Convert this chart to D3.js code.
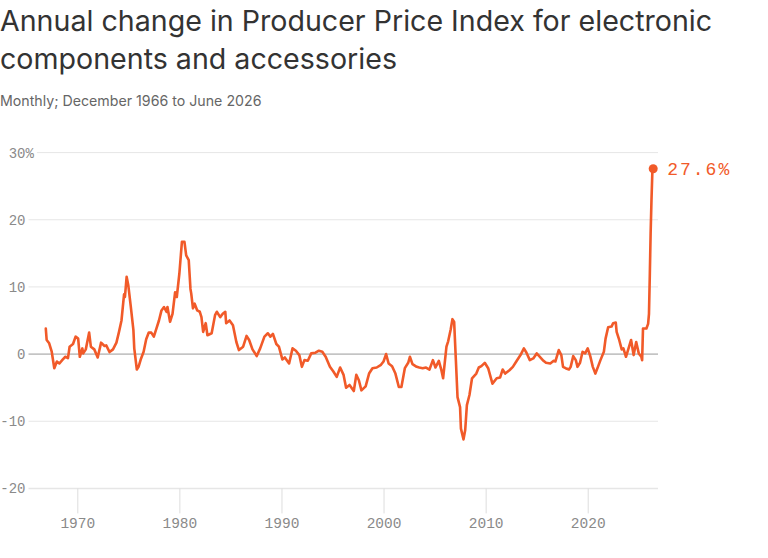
<!DOCTYPE html>
<html>
<head>
<meta charset="utf-8">
<script src="https://cdn.jsdelivr.net/npm/d3@7"></script>
<style>
  body { margin: 0; background: #fff; }
  svg { display: block; }
</style>
</head>
<body>
<div id="chart"></div>
<script>
// Size of the picture
var w = 768;
var h = 558;

// Months (YYYY-MM) and the annual % change at each
var months = [
  "1966-12","1967-01","1967-04","1967-07","1967-10","1968-01","1968-04","1968-08","1968-11","1969-02",
  "1969-04","1969-08","1969-11","1970-02","1970-04","1970-07","1970-08","1970-11","1971-03","1971-05",
  "1971-09","1972-01","1972-05","1972-09","1972-11","1973-03","1973-07","1973-11","1974-02","1974-05",
  "1974-08","1974-09","1974-11","1975-01","1975-04","1975-07","1975-08","1975-11","1976-01","1976-04",
  "1976-07","1976-10","1977-01","1977-04","1977-07","1977-10","1978-01","1978-04","1978-07","1978-10",
  "1978-11","1979-02","1979-05","1979-08","1979-10","1980-01","1980-04","1980-07","1980-09","1980-12",
  "1981-02","1981-03","1981-05","1981-07","1981-10","1982-01","1982-03","1982-05","1982-08","1982-10",
  "1983-03","1983-07","1983-09","1984-01","1984-04","1984-07","1984-08","1984-12","1985-04","1985-08",
  "1985-11","1986-04","1986-08","1986-11","1987-03","1987-08","1987-12","1988-05","1988-09","1988-12",
  "1989-03","1989-07","1989-10","1990-02","1990-05","1990-10","1991-02","1991-06","1991-10","1992-01",
  "1992-04","1992-08","1992-12","1993-05","1993-09","1994-01","1994-05","1994-10","1995-02","1995-06",
  "1995-10","1996-02","1996-05","1996-09","1997-02","1997-05","1997-08","1997-11","1998-04","1998-08",
  "1998-12","1999-05","1999-10","2000-01","2000-04","2000-07","2000-11","2001-03","2001-07","2001-10",
  "2002-02","2002-06","2002-08","2002-11","2003-04","2003-07","2003-11","2004-03","2004-07","2004-11",
  "2005-02","2005-06","2005-09","2005-11","2006-03","2006-05","2006-08","2006-10","2006-12","2007-02",
  "2007-04","2007-07","2007-08","2007-11","2008-01","2008-03","2008-06","2008-09","2009-02","2009-05",
  "2009-08","2009-12","2010-04","2010-09","2011-02","2011-06","2011-09","2011-12","2012-05","2012-09",
  "2013-01","2013-06","2013-10","2014-01","2014-05","2014-09","2015-01","2015-04","2015-09","2015-12",
  "2016-05","2016-09","2016-11","2017-03","2017-06","2017-08","2017-11","2018-03","2018-05","2018-08",
  "2018-11","2019-01","2019-04","2019-07","2019-10","2020-01","2020-04","2020-07","2020-10","2021-01",
  "2021-04","2021-08","2021-10","2022-01","2022-05","2022-07","2022-10","2022-11","2023-02","2023-05",
  "2023-07","2023-10","2024-01","2024-04","2024-07","2024-10","2025-01","2025-04","2025-05","2025-06",
  "2025-10","2025-12","2026-01","2026-02","2026-03","2026-04","2026-05","2026-06"
];

var change = [
  3.8, 2.1, 1.6, 0.35, -2.1, -1.1, -1.4, -0.8, -0.4, -0.6,
  1.1, 1.5, 2.6, 2.3, -0.4, 0.85, 0.1, 0.7, 3.2, 1.1,
  0.7, -0.5, 1.7, 1.2, 1.3, 0.3, 0.7, 1.7, 3.3, 5.0,
  8.9, 8.5, 11.5, 10.2, 7.0, 3.6, 0.85, -2.3, -1.9, -0.65,
  0.35, 2.2, 3.2, 3.2, 2.6, 3.8, 5.0, 6.5, 7.0, 6.3,
  7.0, 4.8, 6.0, 9.2, 8.5, 12.0, 16.7, 16.7, 14.7, 14.0,
  9.7, 9.0, 6.8, 7.5, 6.5, 6.3, 5.5, 3.3, 4.6, 2.8,
  3.1, 5.8, 6.3, 5.5, 6.0, 6.3, 4.6, 5.0, 4.3, 1.8,
  0.6, 1.1, 2.7, 2.1, 0.7, -0.3, 0.85, 2.6, 3.1, 2.6,
  3.0, 1.5, 1.1, -0.8, -0.5, -1.4, 0.85, 0.5, -0.15, -1.9,
  -0.9, -1.0, 0.1, 0.2, 0.5, 0.35, -0.4, -1.9, -2.6, -3.4,
  -2.0, -3.1, -5.0, -4.6, -5.5, -3.1, -3.9, -5.4, -4.8, -2.9,
  -2.1, -2.0, -1.6, -1.1, 0.0, -1.4, -1.8, -2.9, -4.9, -4.9,
  -2.1, -1.3, -0.4, -1.5, -1.9, -2.0, -2.1, -2.0, -2.3, -0.9,
  -2.0, -1.0, -2.4, -3.6, 1.1, 1.9, 3.7, 5.2, 4.8, -0.9,
  -6.4, -7.9, -11.1, -12.7, -11.3, -7.6, -6.1, -3.6, -2.9, -2.0,
  -1.8, -1.3, -2.1, -4.4, -3.6, -3.5, -2.3, -2.9, -2.4, -1.9,
  -1.1, -0.15, 0.85, 0.2, -0.9, -0.65, 0.1, -0.3, -1.0, -1.3,
  -1.4, -1.0, -1.1, 0.6, -0.15, -1.9, -2.1, -2.3, -1.9, -0.3,
  -0.9, -1.9, -1.3, 0.35, 0.1, 0.85, -0.3, -1.9, -2.9, -1.9,
  -0.9, 0.35, 2.3, 4.0, 4.1, 4.6, 4.7, 3.3, 2.1, 0.7,
  0.85, -0.4, 0.85, 2.1, -0.15, 1.8, 0.1, -0.4, -0.9, 3.8,
  3.8, 4.5, 6.0, 12.0, 18.0, 23.0, 27.0, 27.6
];

var yTicks = [30, 20, 10, 0, -10, -20];
var xTickYears = [1970, 1980, 1990, 2000, 2010, 2020];

var parseMonth = d3.timeParse("%Y-%m");
var data = months.map(function(m, i) {
    return { date: parseMonth(m), value: change[i] };
});

var lineColor = "#f15a29";
var monoFont = "'Liberation Mono', 'DejaVu Sans Mono', monospace";

var xScale = d3.scaleTime()
    .domain([parseMonth("1966-12"), parseMonth("2026-06")])
    .range([45.8, 653.2]);

var yScale = d3.scaleLinear()
    .domain([-20, 30])
    .range([488.4, 152.6]);

var svg = d3.select("#chart")
    .append("svg")
    .attr("width", w)
    .attr("height", h);

// Title and subtitle
var title = svg.append("text")
    .attr("fill", "#333")
    .style("font-family", "Inter, 'Noto Sans', sans-serif")
    .style("font-size", "28.6px");
title.append("tspan").attr("x", 0).attr("y", 31)
    .text("Annual change in Producer Price Index for electronic");
title.append("tspan").attr("x", 0).attr("y", 69)
    .text("components and accessories");

svg.append("text")
    .attr("x", 0)
    .attr("y", 106)
    .attr("fill", "#666")
    .style("font-family", "Inter, 'Noto Sans', sans-serif")
    .style("font-size", "14.2px")
    .text("Monthly; December 1966 to June 2026");

// Y axis labels with gridlines starting right after each label
var labelRight = 25.5;
var gridRight = 658;
var yAxis = svg.append("g");

yTicks.forEach(function(t) {
    var g = yAxis.append("g");
    g.append("text")
        .attr("x", labelRight)
        .attr("y", yScale(t))
        .attr("dy", "0.35em")
        .attr("text-anchor", "end")
        .attr("fill", "#8a8a8a")
        .style("font-family", monoFont)
        .style("font-size", "14px")
        .text(t < 0 ? "-" + Math.abs(t) : t);
    var end = labelRight;
    if (t === 30) {
        var pct = g.append("text")
            .attr("x", labelRight)
            .attr("y", yScale(t))
            .attr("dy", "0.35em")
            .attr("fill", "#8a8a8a")
            .style("font-family", monoFont)
            .style("font-size", "14px")
            .text("%");
        end = labelRight + pct.node().getComputedTextLength();
    }
    g.insert("line", "text")
        .attr("x1", end + 3)
        .attr("x2", gridRight)
        .attr("y1", yScale(t))
        .attr("y2", yScale(t))
        .attr("stroke", t === 0 ? "#9a9a9a" : "#e6e6e6")
        .attr("stroke-width", t === -20 ? 1.5 : 1);
});

// X axis ticks and labels
var xAxis = svg.append("g")
    .attr("transform", "translate(0," + yScale(-20) + ")")
    .call(d3.axisBottom(xScale)
        .tickValues(xTickYears.map(function(y) { return new Date(y, 0, 1); }))
        .tickFormat(d3.timeFormat("%Y"))
        .tickSize(25)
        .tickPadding(4.5));
xAxis.select(".domain").remove();
xAxis.selectAll(".tick line").attr("stroke", "#dddddd");
xAxis.selectAll(".tick text")
    .attr("fill", "#8a8a8a")
    .style("font-family", monoFont)
    .style("font-size", "14.5px");

// The line
var line = d3.line()
    .x(function(d) { return xScale(d.date); })
    .y(function(d) { return yScale(d.value); });

svg.append("path")
    .datum(data)
    .attr("fill", "none")
    .attr("stroke", lineColor)
    .attr("stroke-width", 2.6)
    .attr("stroke-linejoin", "round")
    .attr("stroke-linecap", "round")
    .attr("d", line);

// Last value marker
var last = data[data.length - 1];
svg.append("circle")
    .attr("cx", xScale(last.date))
    .attr("cy", yScale(last.value))
    .attr("r", 4.5)
    .attr("fill", lineColor);

svg.append("text")
    .attr("x", xScale(last.date) + 14)
    .attr("y", yScale(last.value))
    .attr("dy", "0.35em")
    .attr("fill", lineColor)
    .style("font-family", monoFont)
    .style("font-size", "18px")
    .style("letter-spacing", "2px")
    .text(last.value.toFixed(1) + "%");
</script>
</body>
</html>
